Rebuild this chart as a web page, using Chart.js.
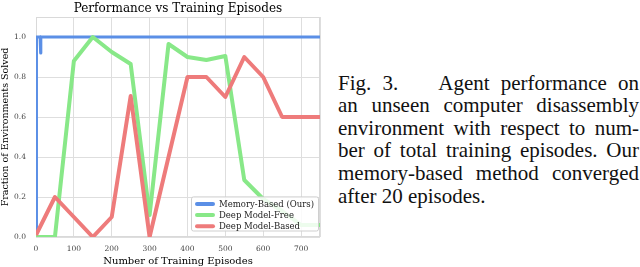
<!DOCTYPE html>
<html>
<head>
<meta charset="utf-8">
<script src="https://cdn.jsdelivr.net/npm/chart.js@4.4.1/dist/chart.umd.min.js"></script>
<style>
  html, body { margin: 0; padding: 0; background: #fff; }
  body { width: 640px; height: 267px; position: relative; overflow: hidden; }
  #wrap { position: absolute; left: 0; top: 0; width: 330px; height: 267px; }
  #caption {
    position: absolute; left: 338px; top: 71.6px; width: 301px;
    font-family: "Liberation Serif", "Times New Roman", serif;
    font-size: 21px; line-height: 22.6px; color: #111;
  }
  #caption div { text-align: justify; text-align-last: justify; white-space: nowrap; }
  #caption div.last { text-align-last: left; }
</style>
</head>
<body>
<div id="wrap"><canvas id="perfChart"></canvas></div>
<div id="caption">
  <div>Fig. <span style="margin-right:30px">3.</span> Agent performance on</div>
  <div>an unseen computer disassembly</div>
  <div>environment with respect to num-</div>
  <div>ber of total training episodes. Our</div>
  <div>memory-based method converged</div>
  <div class="last">after 20 episodes.</div>
</div>
<script>
// Values (x = training episodes, y = fraction solved)
const memoryEpisodes = [0, 1, 11, 12, 13, 750];
const memorySolved = [0, 1.0, 1.0, 0.92, 1.0, 1.0];

const freeEpisodes = [0, 50, 100, 150, 200, 250, 300, 350, 400, 450, 500, 550, 600, 650, 700, 750];
const freeSolved = [0, 0, 0.88, 1.0, 0.925, 0.865, 0.11, 0.965, 0.9, 0.885, 0.905, 0.285, 0.19, 0.13, 0.06, 0.06];

const basedEpisodes = [0, 50, 100, 150, 200, 250, 300, 350, 400, 450, 500, 550, 600, 650, 700, 750];
const basedSolved = [0.01, 0.2, 0.1, 0, 0.1, 0.705, 0, 0.4, 0.8, 0.8, 0.7, 0.9, 0.8, 0.6, 0.6, 0.6];

const xTicks = [0, 100, 200, 300, 400, 500, 600, 700];
const chartTitle = 'Performance vs Training Episodes';

function toPoints(xs, ys) {
  return xs.map((x, i) => ({ x: x, y: ys[i] }));
}

const serif = "'DejaVu Serif', serif";

// frame around the plot, title centred over the plot, legend box in the lower right
const framePlugin = {
  id: 'frame',
  beforeDatasetsDraw(chart) {
    const a = chart.chartArea, c = chart.ctx;
    c.save();
    c.strokeStyle = '#d9d9d9';
    c.lineWidth = 1;
    c.strokeRect(a.left + 0.5, a.top + 0.5, a.right - a.left - 1, a.bottom - a.top - 1);
    c.fillStyle = '#000';
    c.font = '12px ' + serif;
    c.textAlign = 'center';
    c.textBaseline = 'middle';
    c.fillText(chartTitle, (a.left + a.right) / 2, 8.5);
    c.restore();
  },
  afterDatasetsDraw(chart) {
    const a = chart.chartArea, c = chart.ctx;
    const sets = chart.data.datasets;
    c.save();
    c.font = '8.5px ' + serif;
    let tw = 0;
    sets.forEach(d => { tw = Math.max(tw, c.measureText(d.label).width); });
    const rowH = 11.2;
    const w = 5 + 18 + 5 + tw + 4;
    const h = rowH * sets.length + 0.5;
    const x0 = a.right - 2 - w;
    const y0 = a.bottom - 6.5 - h;
    c.fillStyle = 'rgba(255,255,255,0.85)';
    c.strokeStyle = '#cfcfcf';
    c.lineWidth = 1;
    c.beginPath();
    c.roundRect(x0 + 0.5, y0 + 0.5, w, h, 2);
    c.fill();
    c.stroke();
    sets.forEach((d, i) => {
      const cy = y0 + 7.5 + i * rowH;
      c.strokeStyle = d.borderColor;
      c.lineWidth = 4;
      c.lineCap = 'round';
      c.beginPath();
      c.moveTo(x0 + 6, cy);
      c.lineTo(x0 + 22, cy);
      c.stroke();
      c.fillStyle = '#222';
      c.textBaseline = 'middle';
      c.fillText(d.label, x0 + 28, cy + 0.5);
    });
    c.restore();
  }
};

const perfChart = new Chart(document.getElementById('perfChart'), {
  type: 'line',
  data: {
    datasets: [
      {
        label: 'Memory-Based (Ours)',
        data: toPoints(memoryEpisodes, memorySolved),
        borderColor: '#5b8fe6',
        borderWidth: 3.2,
        order: 3
      },
      {
        label: 'Deep Model-Free',
        data: toPoints(freeEpisodes, freeSolved),
        borderColor: '#88e888',
        borderWidth: 4,
        order: 2
      },
      {
        label: 'Deep Model-Based',
        data: toPoints(basedEpisodes, basedSolved),
        borderColor: '#ee7b7b',
        borderWidth: 4,
        order: 1
      }
    ]
  },
  options: {
    responsive: true,
    maintainAspectRatio: false,
    animation: false,
    layout: { padding: { left: 0, right: 10, top: 17, bottom: 0 } },
    elements: {
      point: { radius: 0 },
      line: { tension: 0, borderJoinStyle: 'round', fill: false }
    },
    datasets: { line: { clip: 0 } },
    plugins: {
      legend: { display: false },
      tooltip: { enabled: false },
      title: { display: false }
    },
    scales: {
      x: {
        type: 'linear',
        min: 0,
        max: 750,
        afterFit: s => { s.height = 30; },
        afterBuildTicks: s => { s.ticks = xTicks.concat([750]).map(v => ({ value: v })); },
        grid: { color: '#dedede', drawTicks: false },
        border: { display: false },
        ticks: {
          padding: 8,
          color: '#444',
          font: { family: serif, size: 7.5 },
          maxRotation: 0,
          callback: v => (v === 750 ? '' : v)
        },
        title: {
          display: true,
          text: 'Number of Training Episodes',
          color: '#000',
          font: { family: serif, size: 10 },
          padding: { top: 0, bottom: 0 }
        }
      },
      y: {
        min: 0,
        max: 1.1,
        afterFit: s => { s.width = 36; },
        afterBuildTicks: s => { s.ticks = [0, 0.2, 0.4, 0.6, 0.8, 1.0, 1.1].map(v => ({ value: v })); },
        grid: { color: '#dedede', drawTicks: false },
        border: { display: false },
        ticks: {
          padding: 10,
          color: '#444',
          font: { family: serif, size: 7.5 },
          callback: v => (v > 1.05 ? '' : v.toFixed(1))
        },
        title: {
          display: true,
          text: 'Fraction of Environments Solved',
          color: '#000',
          font: { family: serif, size: 9.5 },
          padding: { top: 0, bottom: 0 }
        }
      }
    }
  },
  plugins: [framePlugin]
});
</script>
</body>
</html>
